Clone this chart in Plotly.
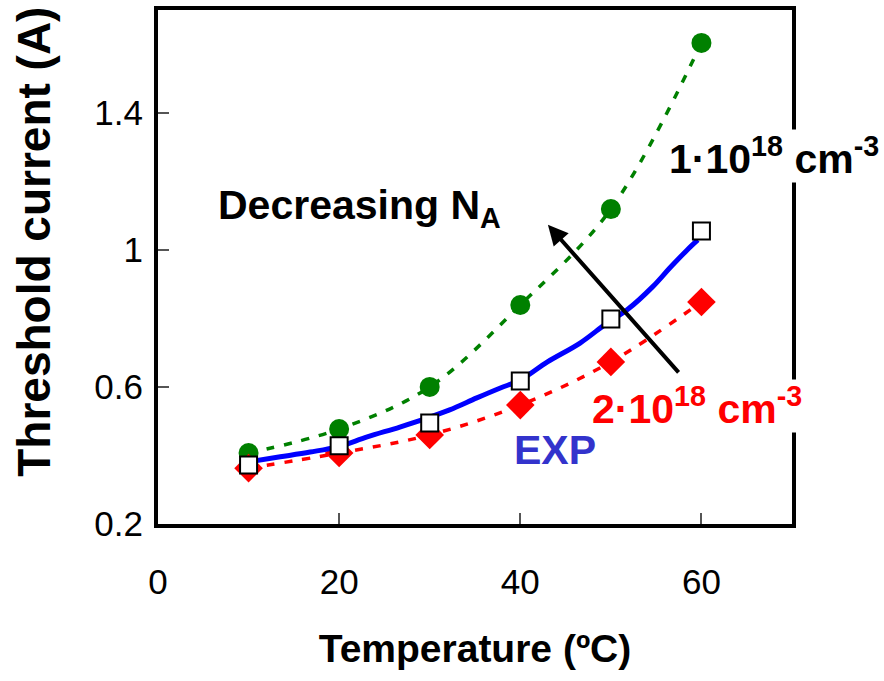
import plotly.graph_objects as go

# Temperature points (°C) for the simulated and measured threshold currents
temps = [10, 20, 30, 40, 50, 60]

# Simulated threshold current (A) for two acceptor concentrations
ith_1e18 = [0.407, 0.477, 0.600, 0.839, 1.119, 1.604]
ith_2e18 = [0.363, 0.407, 0.460, 0.547, 0.673, 0.848]

# Measured threshold current (A) at the sample temperatures
ith_exp_pts = [0.372, 0.428, 0.495, 0.617, 0.798, 1.055]

# Continuous measured curve
exp_t = [9.9, 13.5, 16.8, 19.8, 23.1, 26.7, 29.7, 32.2, 35.2, 37.8, 40.0,
         43.0, 46.6, 49.6, 51.8, 54.6, 56.5, 58.4, 59.6]
exp_i = [0.381, 0.396, 0.410, 0.425, 0.454, 0.483, 0.509, 0.533, 0.568, 0.597,
         0.620, 0.673, 0.728, 0.787, 0.825, 0.892, 0.947, 0.999, 1.029]

x_ticks = [0, 20, 40, 60]
y_ticks = [0.2, 0.6, 1.0, 1.4]
y_tick_text = ["0.2", "0.6", "1", "1.4"]

FONT = "Liberation Sans, Arial, sans-serif"

fig = go.Figure()

fig.add_trace(go.Scatter(
    x=temps, y=ith_1e18, mode="lines+markers",
    line=dict(color="#008000", width=3.5, dash="8px,10px", shape="spline"),
    marker=dict(symbol="circle", size=20, color="#008000"),
    showlegend=False))

fig.add_trace(go.Scatter(
    x=temps, y=ith_2e18, mode="lines+markers",
    line=dict(color="#ff0000", width=3.5, dash="8px,10px", shape="spline"),
    marker=dict(symbol="diamond", size=22, color="#ff0000"),
    showlegend=False))

fig.add_trace(go.Scatter(
    x=exp_t, y=exp_i, mode="lines",
    line=dict(color="#0000ff", width=5, shape="spline"),
    showlegend=False))

fig.add_trace(go.Scatter(
    x=temps, y=ith_exp_pts, mode="markers",
    marker=dict(symbol="square", size=17, color="white",
                line=dict(color="black", width=2)),
    showlegend=False))

axis_common = dict(
    showline=True, linecolor="black", linewidth=4, mirror=True,
    showgrid=False, zeroline=False,
    ticks="inside", ticklen=11, tickwidth=1.5, tickcolor="#555555",
    tickfont=dict(family=FONT, size=35, color="black"),
)

fig.update_xaxes(
    range=[0, 70], tickvals=x_ticks, ticklabelstandoff=24,
    title=dict(text="<b>Temperature (ºC)</b>", standoff=36,
               font=dict(family=FONT, size=39, color="black")),
    **axis_common)

fig.update_yaxes(
    range=[0.2, 1.7], tickvals=y_ticks, ticktext=y_tick_text,
    ticklabelstandoff=4,
    **axis_common)

# Y-axis title, placed as rotated text left of the tick labels
fig.add_annotation(
    x=-0.1956, y=0.549, xref="paper", yref="paper",
    xanchor="center", yanchor="middle", textangle=-90,
    text="<b>Threshold current (A)</b>", showarrow=False,
    font=dict(family=FONT, size=46, color="black"))

ann_font = dict(family=FONT, size=41)

# Concentration labels, decreasing-N_A arrow and EXP tag
fig.add_annotation(
    x=0.9716, y=0.716, xref="paper", yref="paper", xanchor="center", yanchor="middle",
    text="<b>1·10<sup>18</sup> cm<sup>-3</sup></b>", showarrow=False,
    font=dict(color="black", **ann_font), bgcolor="white", borderpad=0)

fig.add_annotation(
    x=0.850, y=0.230, xref="paper", yref="paper", xanchor="center", yanchor="middle",
    text="<b>2·10<sup>18</sup> cm<sup>-3</sup></b>", showarrow=False,
    font=dict(color="#ff0000", **ann_font), bgcolor="white", borderpad=0)

fig.add_annotation(
    x=0.3186, y=0.615, xref="paper", yref="paper", xanchor="center", yanchor="middle",
    text="<b>Decreasing N<sub>A</sub></b>", showarrow=False,
    font=dict(color="black", **ann_font))

fig.add_annotation(
    x=0.626, y=0.144, xref="paper", yref="paper", xanchor="center", yanchor="middle",
    text="<b>EXP</b>", showarrow=False,
    font=dict(color="#3333cc", **ann_font))

fig.add_annotation(
    x=0.615, y=0.582, xref="paper", yref="paper",
    ax=132, ay=149, axref="pixel", ayref="pixel",
    text="", showarrow=True, arrowhead=2, arrowsize=1.0, arrowwidth=4,
    arrowcolor="black", standoff=0)

fig.update_layout(
    width=884, height=681,
    margin=dict(l=158, r=92, t=10, b=157, autoexpand=False),
    plot_bgcolor="white", paper_bgcolor="white",
    font=dict(family=FONT),
)

fig.write_html("out.html")
